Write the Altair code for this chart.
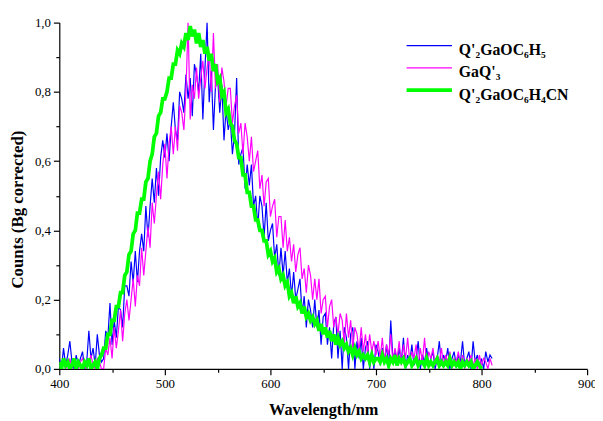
import altair as alt
import pandas as pd

SERIES = ["Q'₂GaOC₆H₅", "GaQ'₃", "Q'₂GaOC₆H₄CN"]
COLORS = ["#0000ff", "#ff00ff", "#00ff00"]
WIDTHS = [1.2, 1.2, 3.8]
START_NM = 400
STEP_NM = 2
X_TICKS = [400, 500, 600, 700, 800, 900]
X_MINOR = [450, 550, 650, 750, 850]
Y_TICKS = [0.0, 0.2, 0.4, 0.6, 0.8, 1.0]
Y_MINOR = [0.1, 0.3, 0.5, 0.7, 0.9]

# Q'2GaOC6H5, 400..810 nm every 2 nm
blue_counts = [
    0.03, 0.00, 0.06, 0.01, 0.04, 0.08, 0.02, 0.00, 0.04, 0.01, 0.03, 0.05, 0.00, 0.02, 0.11, 0.03, 0.06, 0.01, 0.10, 0.04, 0.02,
    0.03, 0.11, 0.09, 0.19, 0.07, 0.14, 0.09, 0.18, 0.17, 0.12, 0.24, 0.24, 0.21, 0.31, 0.25, 0.34, 0.25, 0.34, 0.39, 0.34,
    0.47, 0.38, 0.47, 0.55, 0.48, 0.58, 0.50, 0.61, 0.66, 0.61,
    0.68, 0.60, 0.70, 0.77, 0.69, 0.66, 0.80, 0.78, 0.74, 0.85, 0.78, 0.84, 0.73, 0.88, 0.85, 0.80, 0.91, 0.72, 0.87, 1.00,
    0.77, 0.86, 0.69, 0.82, 0.84, 0.74, 0.82, 0.66, 0.75, 0.69,
    0.72, 0.62, 0.68, 0.84, 0.59, 0.62, 0.64, 0.52, 0.59, 0.53, 0.59, 0.47, 0.50, 0.41, 0.50, 0.47, 0.38, 0.48, 0.37, 0.40,
    0.42, 0.32, 0.36, 0.27, 0.35, 0.27, 0.34, 0.25, 0.29, 0.21,
    0.28, 0.20, 0.23, 0.26, 0.16, 0.21, 0.12, 0.20, 0.17, 0.12, 0.20, 0.12, 0.17, 0.07, 0.15, 0.16, 0.07, 0.12, 0.03, 0.13,
    0.15, 0.03, 0.11, 0.00, 0.12, 0.09, 0.00, 0.10, 0.12, 0.00, 0.08, 0.03, 0.09, 0.00, 0.06, 0.08, 0.00, 0.06, 0.00, 0.07,
    0.05, 0.01, 0.06, 0.02, 0.07, 0.00, 0.14, 0.03, 0.05, 0.01, 0.06, 0.02, 0.09, 0.00, 0.04, 0.02, 0.07, 0.01, 0.03, 0.08,
    0.00, 0.04, 0.02, 0.06, 0.01, 0.03, 0.05, 0.00, 0.03, 0.08, 0.01, 0.04, 0.02, 0.06, 0.00, 0.03, 0.05, 0.01, 0.04, 0.02,
    0.08, 0.01, 0.03, 0.05, 0.00, 0.08, 0.02, 0.04, 0.01, 0.03, 0.00, 0.05, 0.02, 0.04, 0.03,
]

# GaQ'3, 400..810 nm every 2 nm
magenta_counts = [
    0.01, 0.00, 0.02, 0.00, 0.01, 0.03, 0.00, 0.02, 0.01, 0.00, 0.02, 0.03, 0.01, 0.00, 0.02, 0.04, 0.01, 0.00, 0.03, 0.02, 0.00,
    0.00, 0.06, 0.04, 0.09, 0.03, 0.12, 0.06, 0.11, 0.17, 0.08, 0.16, 0.20, 0.14, 0.20, 0.26, 0.18, 0.27, 0.24, 0.35, 0.27,
    0.34, 0.41, 0.35, 0.48, 0.42, 0.50, 0.57, 0.49, 0.59, 0.65,
    0.55, 0.65, 0.70, 0.62, 0.70, 0.63, 0.76, 0.74, 0.69, 0.80, 1.00, 0.72, 0.82, 0.78, 0.87, 0.78, 0.84, 0.89, 0.81, 0.87,
    0.91, 0.80, 0.97, 0.81, 0.88, 0.77, 0.87, 0.83, 0.76, 0.81,
    0.81, 0.71, 0.76, 0.79, 0.68, 0.71, 0.62, 0.71, 0.67, 0.60, 0.67, 0.57, 0.60, 0.63, 0.52, 0.56, 0.47, 0.54, 0.55, 0.44,
    0.47, 0.49, 0.38, 0.44, 0.44, 0.35, 0.43, 0.34, 0.38, 0.31,
    0.36, 0.28, 0.33, 0.35, 0.26, 0.29, 0.22, 0.30, 0.27, 0.20, 0.26, 0.20, 0.26, 0.16, 0.20, 0.21, 0.12, 0.18, 0.20, 0.12,
    0.15, 0.10, 0.16, 0.14, 0.07, 0.16, 0.09, 0.14, 0.06, 0.12, 0.10, 0.05, 0.12, 0.05, 0.10, 0.04, 0.10, 0.05, 0.08, 0.04,
    0.08, 0.03, 0.09, 0.02, 0.07, 0.04, 0.10, 0.02, 0.06, 0.03, 0.08, 0.01, 0.07, 0.03, 0.09, 0.02, 0.05, 0.03, 0.07, 0.01,
    0.06, 0.02, 0.09, 0.01, 0.05, 0.03, 0.06, 0.01, 0.04, 0.02, 0.06, 0.01, 0.04, 0.02, 0.05, 0.00, 0.03, 0.02, 0.05, 0.01,
    0.04, 0.00, 0.03, 0.02, 0.04, 0.01, 0.03, 0.00, 0.04, 0.01, 0.03, 0.02, 0.00, 0.03, 0.01,
]

# Q'2GaOC6H4CN, 400..800 nm every 2 nm
green_counts = [
    0.02, 0.00, 0.03, 0.01, 0.02, 0.00, 0.01, 0.03, 0.00, 0.02, 0.01, 0.00, 0.02, 0.01, 0.03, 0.00, 0.01, 0.02, 0.00, 0.03, 0.04,
    0.06, 0.06, 0.10, 0.10, 0.14, 0.14, 0.18, 0.18, 0.22, 0.22, 0.27, 0.28, 0.33, 0.34, 0.39, 0.40, 0.45, 0.45, 0.49, 0.49,
    0.54, 0.55, 0.60, 0.62, 0.67, 0.68, 0.73, 0.74, 0.78, 0.78,
    0.80, 0.84, 0.84, 0.88, 0.88, 0.92, 0.91, 0.94, 0.93, 0.97, 0.95, 0.99, 0.96, 0.98, 0.94, 0.97, 0.93, 0.95, 0.91, 0.93,
    0.89, 0.91, 0.86, 0.88, 0.83, 0.84, 0.79, 0.80, 0.74, 0.75,
    0.71, 0.70, 0.66, 0.65, 0.61, 0.61, 0.56, 0.56, 0.51, 0.51, 0.47, 0.47, 0.43, 0.43, 0.40, 0.40, 0.37, 0.37, 0.33, 0.34,
    0.31, 0.32, 0.28, 0.29, 0.26, 0.27, 0.24, 0.25, 0.21, 0.22,
    0.19, 0.21, 0.18, 0.19, 0.16, 0.18, 0.15, 0.16, 0.14, 0.15, 0.13, 0.14, 0.11, 0.13, 0.10, 0.12, 0.09, 0.11, 0.08, 0.10,
    0.07, 0.09, 0.07, 0.08, 0.06, 0.07, 0.05, 0.06, 0.04, 0.06, 0.04, 0.05, 0.03, 0.04, 0.03, 0.04, 0.02, 0.04, 0.02, 0.03,
    0.03, 0.02, 0.04, 0.02, 0.03, 0.01, 0.03, 0.02, 0.04, 0.01, 0.03, 0.02, 0.03, 0.01, 0.02, 0.03, 0.01, 0.02, 0.03, 0.01,
    0.02, 0.02, 0.01, 0.03, 0.01, 0.02, 0.01, 0.02, 0.03, 0.01, 0.02, 0.01, 0.02, 0.01, 0.03, 0.01, 0.02, 0.01, 0.02, 0.00,
    0.02, 0.01, 0.02, 0.01, 0.02, 0.00, 0.01, 0.02, 0.01, 0.00,
]

FONT = "Liberation Serif"


def frame(name, counts):
    return pd.DataFrame({
        "wavelength": [START_NM + STEP_NM * i for i in range(len(counts))],
        "counts": counts,
        "series": [name] * len(counts),
    })


x_scale = alt.Scale(domain=[400, 900], nice=False, zero=False)
y_scale = alt.Scale(domain=[0, 1], nice=False)

x_major = alt.Axis(
    values=X_TICKS, format="d", orient="bottom", grid=False, labelFlush=False,
    labelFont=FONT, labelFontSize=13, labelColor="black", labelPadding=3,
    tickSize=6, tickColor="black", tickWidth=1.2,
    domainColor="black", domainWidth=1.2,
    title="Wavelength/nm", titleFont=FONT, titleFontSize=16.5, titleFontWeight="bold",
    titleColor="black", titleY=46, titleBaseline="alphabetic",
)
y_major = alt.Axis(
    values=Y_TICKS, orient="left", grid=False, labelFlush=False,
    labelExpr="replace(format(datum.value, '.1f'), '.', ',')",
    labelFont=FONT, labelFontSize=13, labelColor="black", labelPadding=3,
    tickSize=6, tickColor="black", tickWidth=1.2,
    domainColor="black", domainWidth=1.2,
    title="Counts (Bg corrected)", titleFont=FONT, titleFontSize=17, titleFontWeight="bold",
    titleColor="black", titleAngle=270, titleX=-42, titleY=189,
    titleAlign="center", titleBaseline="middle",
)
x_minor = alt.Axis(values=X_MINOR, orient="bottom", labels=False, domain=False, grid=False,
                   tickSize=3.5, tickColor="black", tickWidth=1.2, title=None)
y_minor = alt.Axis(values=Y_MINOR, orient="left", labels=False, domain=False, grid=False,
                   tickSize=3.5, tickColor="black", tickWidth=1.2, title=None)

# legend line drawn a little above the label's middle, as in the reference
legend = alt.Legend(
    orient="none", legendX=350, legendY=20, title=None, padding=0,
    symbolType="M-1,-0.2H1", symbolSize=2116, labelOffset=5, rowPadding=6.5, clipHeight=16,
    labelFont=FONT, labelFontSize=16, labelFontWeight="bold", labelColor="black", labelLimit=300,
)

color = alt.Color("series:N", scale=alt.Scale(domain=SERIES, range=COLORS), legend=legend)
width = alt.StrokeWidth("series:N", scale=alt.Scale(type="ordinal", domain=SERIES, range=WIDTHS), legend=legend)


def layer(counts, name, xaxis, yaxis):
    return alt.Chart(frame(name, counts)).mark_line(clip=True).encode(
        x=alt.X("wavelength:Q", scale=x_scale, axis=xaxis),
        y=alt.Y("counts:Q", scale=y_scale, axis=yaxis),
        color=color,
        strokeWidth=width,
    )


chart = alt.layer(
    layer(blue_counts, SERIES[0], x_major, y_major),
    layer(magenta_counts, SERIES[1], x_minor, y_minor),
    layer(green_counts, SERIES[2], None, None),
).resolve_axis(
    x="independent", y="independent"
).properties(
    width=535, height=351,
    autosize=alt.AutoSizeParams(type="none"),
    padding={"left": 52, "top": 12, "right": 8, "bottom": 50},
    background="white",
).configure_view(stroke=None)

chart.save("out.html", embed_options={"renderer": "svg", "actions": False})
